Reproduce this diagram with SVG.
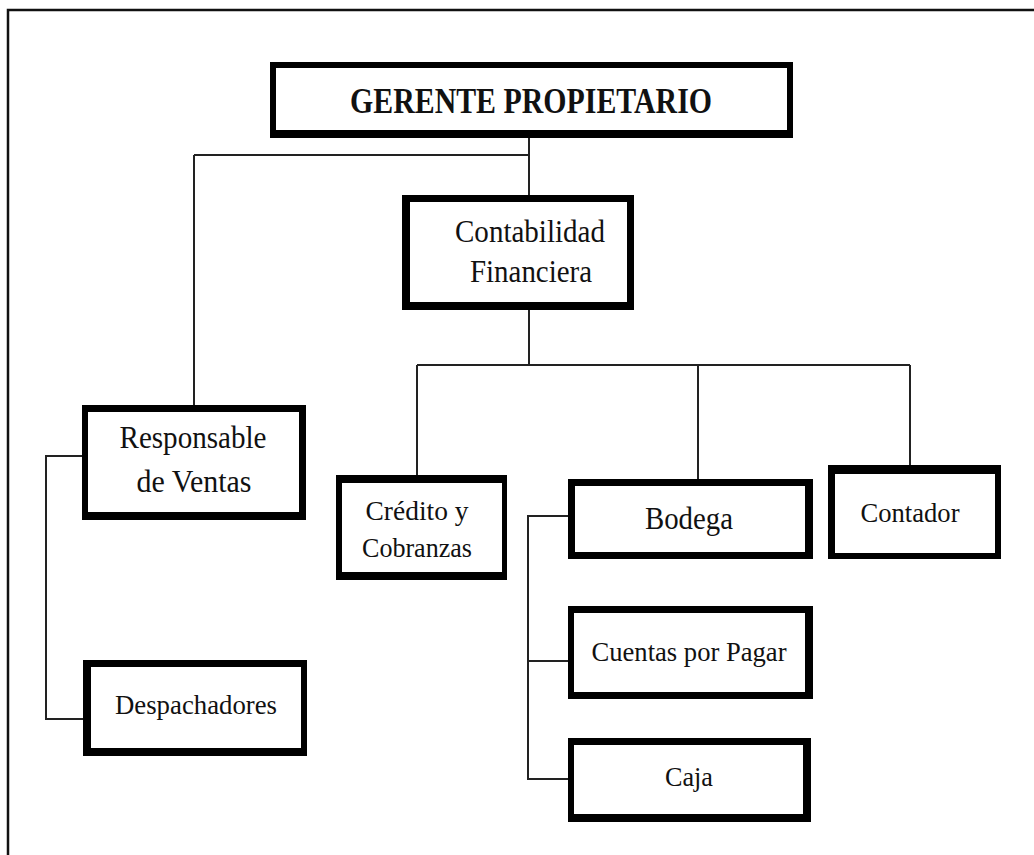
<svg xmlns="http://www.w3.org/2000/svg" width="1034" height="855" viewBox="0 0 1034 855">
  <style>
    .edge { fill: #000; }
    .face { fill: #fff; }
    .lbl { font-family: "Liberation Serif", "Times New Roman", serif; fill: #111; text-anchor: middle; }
    .big { font-size: 31px; }
    .small { font-size: 28px; }
    .title { font-size: 36px; font-weight: bold; }
    .wire { fill: none; stroke: #222; stroke-width: 2; }
  </style>
  <rect x="0" y="0" width="1034" height="855" fill="#fff"/>
  <!-- page border -->
  <path d="M8 857 V10 H1036" fill="none" stroke="#111" stroke-width="2.5"/>

  <g id="connectors">
    <path class="wire" d="M529 138 V196"/>
    <path class="wire" d="M194 155 H529"/>
    <path class="wire" d="M194 155 V406"/>
    <path class="wire" d="M529 309 V365"/>
    <path class="wire" d="M417 365 H910"/>
    <path class="wire" d="M417 365 V476"/>
    <path class="wire" d="M698 365 V480"/>
    <path class="wire" d="M910 365 V466"/>
    <path class="wire" d="M88 456 H46 V719 H84"/>
    <path class="wire" d="M570 516 H528 V779 H569"/>
    <path class="wire" d="M528 661 H569"/>
  </g>

  <g id="gerente">
    <rect class="edge" x="270" y="62" width="523" height="76"/>
    <rect class="face" x="276" y="68" width="511" height="62"/>
    <text class="lbl title" x="531" y="113" textLength="362" lengthAdjust="spacingAndGlyphs">GERENTE PROPIETARIO</text>
  </g>

  <g id="contabilidad">
    <rect class="edge" x="402" y="195" width="232" height="115"/>
    <rect class="face" x="410" y="202" width="217" height="100"/>
    <text class="lbl big" x="530" y="242" textLength="150" lengthAdjust="spacingAndGlyphs">Contabilidad</text>
    <text class="lbl big" x="531" y="282" textLength="122" lengthAdjust="spacingAndGlyphs">Financiera</text>
  </g>

  <g id="responsable">
    <rect class="edge" x="82" y="405" width="224" height="115"/>
    <rect class="face" x="88" y="412" width="211" height="100"/>
    <text class="lbl big" x="193" y="448" textLength="147" lengthAdjust="spacingAndGlyphs">Responsable</text>
    <text class="lbl big" x="194" y="492" textLength="115" lengthAdjust="spacingAndGlyphs">de Ventas</text>
  </g>

  <g id="despachadores">
    <rect class="edge" x="83" y="660" width="224" height="96"/>
    <rect class="face" x="91" y="667" width="210" height="81"/>
    <text class="lbl small" x="196" y="714" textLength="162" lengthAdjust="spacingAndGlyphs">Despachadores</text>
  </g>

  <g id="credito">
    <rect class="edge" x="336" y="475" width="171" height="105"/>
    <rect class="face" x="342" y="483" width="160" height="89"/>
    <text class="lbl small" x="417" y="520" textLength="103" lengthAdjust="spacingAndGlyphs">Crédito y</text>
    <text class="lbl small" x="417" y="557" textLength="110" lengthAdjust="spacingAndGlyphs">Cobranzas</text>
  </g>

  <g id="bodega">
    <rect class="edge" x="568" y="479" width="245" height="80"/>
    <rect class="face" x="575" y="486" width="230" height="66"/>
    <text class="lbl big" x="689" y="529" textLength="88" lengthAdjust="spacingAndGlyphs">Bodega</text>
  </g>

  <g id="contador">
    <rect class="edge" x="828" y="465" width="173" height="94"/>
    <rect class="face" x="835" y="474" width="160" height="79"/>
    <text class="lbl small" x="910" y="522" textLength="99" lengthAdjust="spacingAndGlyphs">Contador</text>
  </g>

  <g id="cuentas">
    <rect class="edge" x="568" y="606" width="245" height="93"/>
    <rect class="face" x="574" y="613" width="231" height="79"/>
    <text class="lbl small" x="689" y="661" textLength="195" lengthAdjust="spacingAndGlyphs">Cuentas por Pagar</text>
  </g>

  <g id="caja">
    <rect class="edge" x="568" y="738" width="243" height="84"/>
    <rect class="face" x="574" y="745" width="229" height="69"/>
    <text class="lbl small" x="689" y="786" textLength="48" lengthAdjust="spacingAndGlyphs">Caja</text>
  </g>
</svg>
